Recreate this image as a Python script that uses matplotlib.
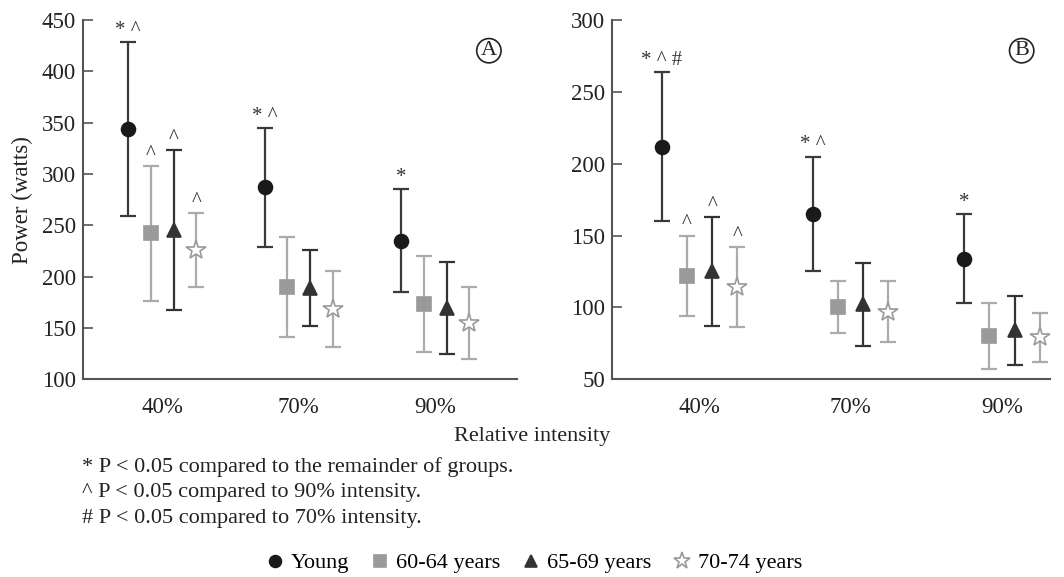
import matplotlib
matplotlib.use("Agg")
import matplotlib.pyplot as plt
import numpy as np

plt.rcParams['font.family'] = ['Liberation Serif', 'DejaVu Serif']

# данные
intensity = ['40%', '70%', '90%']
groups = ['Young', '60-64 years', '65-69 years', '70-74 years']

# панель A - мощность (ватты), среднее и SD
a_mean = {
    'Young':       [344, 287, 235],
    '60-64 years': [242, 190, 173],
    '65-69 years': [245, 189, 169],
    '70-74 years': [226, 168, 155],
}
a_sd = {
    'Young':       [85, 58, 50],
    '60-64 years': [66, 49, 47],
    '65-69 years': [78, 37, 45],
    '70-74 years': [36, 37, 35],
}
a_marks = {
    'Young':       ['* ^', '* ^', '*'],
    '60-64 years': ['^', '', ''],
    '65-69 years': ['^', '', ''],
    '70-74 years': ['^', '', ''],
}

# панель B
b_mean = {
    'Young':       [212, 165, 134],
    '60-64 years': [122, 100, 80],
    '65-69 years': [125, 102, 84],
    '70-74 years': [114, 97, 79],
}
b_sd = {
    'Young':       [52, 40, 31],
    '60-64 years': [28, 18, 23],
    '65-69 years': [38, 29, 24],
    '70-74 years': [28, 21, 17],
}
b_marks = {
    'Young':       ['* ^ #', '* ^', '*'],
    '60-64 years': ['^', '', ''],
    '65-69 years': ['^', '', ''],
    '70-74 years': ['^', '', ''],
}

offsets = [-0.25, -0.085, 0.085, 0.25]
styles = {
    'Young':       dict(marker='o', mfc='#1a1a1a', mec='#1a1a1a', ms=10, ecolor='#3a3a3a'),
    '60-64 years': dict(marker='s', mfc='#9a9a9a', mec='#9a9a9a', ms=9.5, ecolor='#ababab'),
    '65-69 years': dict(marker='^', mfc='#333333', mec='#333333', ms=10, ecolor='#333333'),
    '70-74 years': dict(marker='*', mfc='white', mec='#9a9a9a', ms=15, ecolor='#ababab'),
}

fig = plt.figure(figsize=(10.64, 5.77), dpi=100)
axA = fig.add_axes([0.078, 0.343, 0.408, 0.622])
axB = fig.add_axes([0.575, 0.343, 0.412, 0.622])


def draw(ax, means, sds, marks, ylim, yticks, xlim, letter, pad):
    x = np.arange(len(intensity))
    for g, off in zip(groups, offsets):
        st = styles[g]
        xs = x + off
        ax.errorbar(xs, means[g], yerr=sds[g], fmt='none', ecolor=st['ecolor'],
                    elinewidth=1.6, capsize=6, capthick=1.6, zorder=2)
        ax.plot(xs, means[g], linestyle='none', marker=st['marker'], ms=st['ms'],
                mfc=st['mfc'], mec=st['mec'], mew=1.2, label=g, zorder=3)
        for xi, m, s, t in zip(xs, means[g], sds[g], marks[g]):
            if t:
                ax.text(xi, m + s + pad, t, ha='center', va='bottom',
                        fontsize=15, color='#333333')
    ax.set_xlim(*xlim)
    ax.set_ylim(*ylim)
    ax.set_yticks(yticks)
    ax.set_xticks(x)
    ax.set_xticklabels(intensity)
    for s in ['top', 'right']:
        ax.spines[s].set_visible(False)
    for s in ['left', 'bottom']:
        ax.spines[s].set_color('#555555')
        ax.spines[s].set_linewidth(1.5)
    ax.tick_params(axis='y', direction='in', length=7, width=1.2, color='#555555',
                   labelsize=16.5, labelcolor='#222222', pad=5)
    ax.tick_params(axis='x', length=0, labelsize=16.5, labelcolor='#222222', pad=13)
    ax.text(0.935, 0.915, letter, transform=ax.transAxes, ha='center', va='center',
            fontsize=16, color='#222222',
            bbox=dict(boxstyle='circle,pad=0.12', fc='white', ec='#222222', lw=1.2))


draw(axA, a_mean, a_sd, a_marks, (100, 450), range(100, 451, 50), (-0.58, 2.6), 'A', 2)
draw(axB, b_mean, b_sd, b_marks, (50, 300), range(50, 301, 50), (-0.58, 2.32), 'B', 1.5)

axA.set_ylabel('Power (watts)', fontsize=16.5, color='#222222', labelpad=6)

fig.text(0.50, 0.243, 'Relative intensity', ha='center', va='center', fontsize=16, color='#222222')
notes = ['* P < 0.05 compared to the remainder of groups.',
         '^ P < 0.05 compared to 90% intensity.',
         '# P < 0.05 compared to 70% intensity.']
for i, n in enumerate(notes):
    fig.text(0.077, 0.19 - i * 0.044, n, ha='left', va='center', fontsize=16, color='#222222')

h, l = axA.get_legend_handles_labels()
fig.legend(h, l, loc='center', bbox_to_anchor=(0.501, 0.024), ncol=4, frameon=False,
           fontsize=16, handletextpad=0.2, columnspacing=0.9, handlelength=1.0,
           markerscale=0.85)

plt.savefig('out.png', dpi=100)
